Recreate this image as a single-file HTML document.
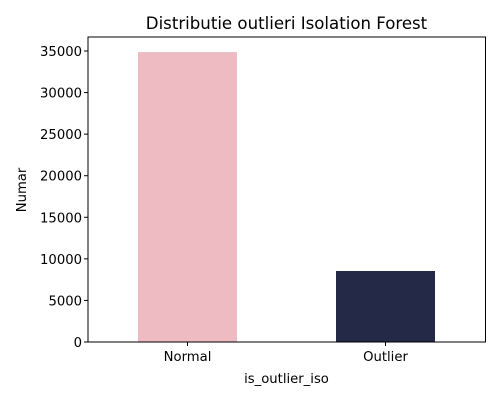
<!DOCTYPE html>
<html><head><meta charset="utf-8"><style>
body{margin:0;background:#fff}
svg text{font-family:"DejaVu Sans","Liberation Sans",sans-serif;fill:#000}
</style></head><body>
<svg id="chart" width="500" height="400">
<text x="286.5" y="29" font-size="16.6" text-anchor="middle">Distributie outlieri Isolation Forest</text>
<g id="marks"></g>
<rect x="88" y="37" width="397.5" height="305" fill="none" stroke="#000" stroke-width="1"/>
<g id="axes"></g>
<text x="286.5" y="383" font-size="13.2" text-anchor="middle">is_outlier_iso</text>
<text transform="translate(26,190) rotate(-90)" font-size="13.2" text-anchor="middle">Numar</text>
</svg>
<script>
const categories = ["Normal", "Outlier"];
const counts = [34870, 8540];
const colors = ["#eebbc3", "#232946"];
const yTicks = [0, 5000, 10000, 15000, 20000, 25000, 30000, 35000];

const NS = "http://www.w3.org/2000/svg";
const x0 = 88, x1 = 485.5, yBottom = 342, yTop = 51;
function y(v){ return yBottom - v / 35000 * (yBottom - yTop); }
function xc(i){ return 187.5 + i * 198; }
const bw = 99;
const marks = document.getElementById("marks");
const axes = document.getElementById("axes");
function mk(tag, attrs, parent){ const e = document.createElementNS(NS, tag); for (const k in attrs) e.setAttribute(k, attrs[k]); parent.appendChild(e); return e; }
categories.forEach((c, i) => {
  const r = mk("rect", {x: xc(i) - bw/2, y: y(counts[i]), width: bw, height: yBottom - y(counts[i]), fill: colors[i]}, marks);
  
  
  const t = mk("line", {x1: xc(i), x2: xc(i), y1: yBottom, y2: yBottom + 4, stroke: "#000"}, axes);
  
  
  const l = mk("text", {x: xc(i), y: yBottom + 19, "font-size": 13.2, "text-anchor": "middle"}, axes);
  l.textContent = c;
  
  
});
yTicks.forEach(v => {
  const t = mk("line", {x1: x0 - 4, x2: x0, y1: y(v), y2: y(v), stroke: "#000"}, axes);
  
  
  const l = mk("text", {x: x0 - 6, y: y(v) + 5, "font-size": 13.2, "text-anchor": "end"}, axes);
  l.textContent = v;
  
  
});
</script>
</body></html>
